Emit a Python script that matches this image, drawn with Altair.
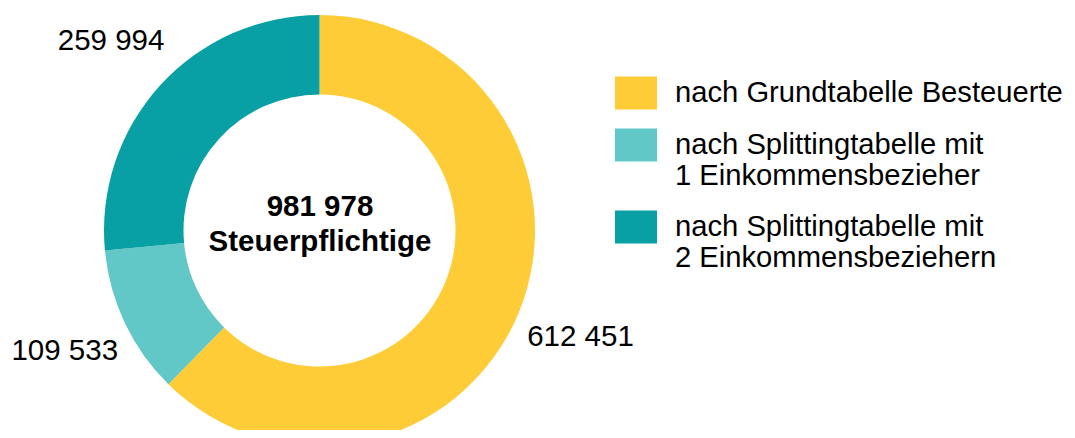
import altair as alt
import pandas as pd

categories = [
    "nach Grundtabelle Besteuerte",
    "nach Splittingtabelle mit 1 Einkommensbezieher",
    "nach Splittingtabelle mit 2 Einkommensbeziehern",
]
values = [612451, 109533, 259994]
order = [0, 1, 2]
colors = ["#FECC36", "#62C7C7", "#08A0A5"]
center_caption = "Steuerpflichtige"

df = pd.DataFrame({"Kategorie": categories, "Anzahl": values, "Reihenfolge": order})

CX, CY = 311.5, 222.5
FONT = "Liberation Sans"
FS = 29.5

base = alt.Chart(df).encode(
    theta=alt.Theta("Anzahl:Q", stack=True),
    order=alt.Order("Reihenfolge:Q"),
)

arcs = base.mark_arc(innerRadius=136, outerRadius=215.5, x=CX, y=CY).encode(
    color=alt.Color(
        "Kategorie:N",
        scale=alt.Scale(domain=categories, range=colors),
        sort=categories,
        legend=alt.Legend(
            title=None,
            orient="none",
            legendX=607,
            legendY=64,
            symbolType="M-1,-0.786H1V0.786H-1Z",
            symbolSize=1764,
            symbolStrokeWidth=0,
            symbolOpacity=1,
            labelFont=FONT,
            labelFontSize=29.2,
            labelColor="black",
            labelLimit=600,
            labelOffset=18,
            labelBaseline="middle",
            rowPadding=14,
            labelExpr="split(replace(datum.label, ' mit ', ' mit|'), '|')",
        ),
    ),
)

labels = base.transform_calculate(
    label="replace(format(datum.Anzahl, ','), ',', ' ')"
).mark_text(
    radius=282, x=CX, y=CY, font=FONT, fontSize=FS, color="black", baseline="middle", align="center"
).encode(text="label:N")

center = alt.Chart(df).transform_aggregate(
    total="sum(Anzahl)"
).transform_calculate(
    txt="[replace(format(datum.total, ','), ',', ' '), '" + center_caption + "']"
).mark_text(
    font=FONT, fontSize=FS, fontWeight="bold", color="black",
    baseline="alphabetic", align="center", lineHeight=35,
).encode(
    text="txt:N",
    x=alt.value(312),
    y=alt.value(208),
)

chart = alt.layer(arcs, labels, center).properties(
    width=1059,
    height=422,
    autosize=alt.AutoSizeParams(type="none"),
    padding=0,
).configure_view(stroke=None)

chart.save("out.html", embed_options={"renderer": "svg", "actions": False})
